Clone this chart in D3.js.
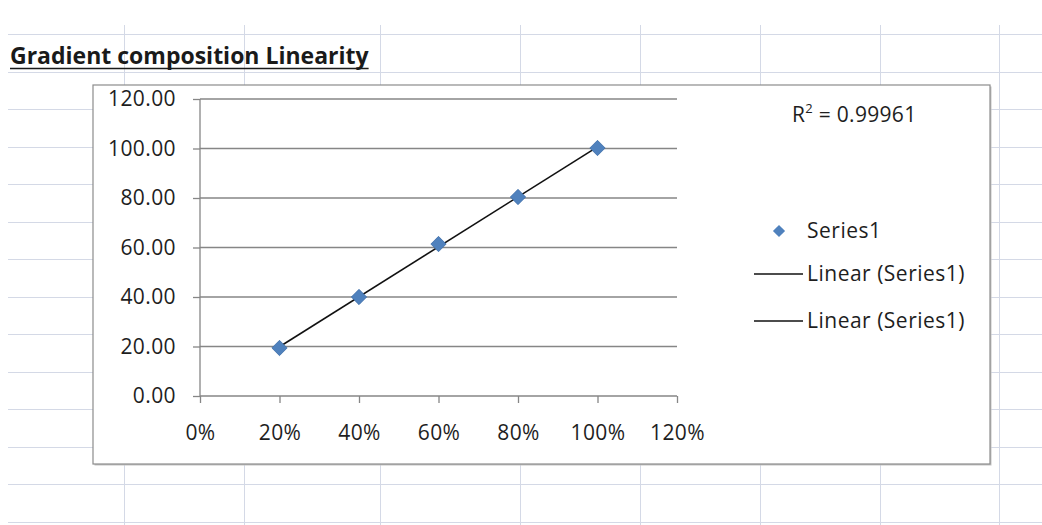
<!DOCTYPE html>
<html>
<head>
<meta charset="utf-8">
<script src="https://cdn.jsdelivr.net/npm/d3@7"></script>
<style>
  html, body { margin: 0; padding: 0; background: #fff; }
  svg { display: block; }
  text { font-family: "Open Sans", sans-serif; fill: #1e1e1e; }
</style>
</head>
<body>
<script>
// chart data
const xValues = [0.2, 0.4, 0.6, 0.8, 1.0];
const yValues = [19.4, 40.0, 61.4, 80.4, 100.2];
const xTicks = [0, 0.2, 0.4, 0.6, 0.8, 1.0, 1.2];
const yTicks = [0, 20, 40, 60, 80, 100, 120];
const seriesName = "Series1";
const trendLabels = ["Linear (Series1)", "Linear (Series1)"];
const rSquaredText = "0.99961";
const titleText = "Gradient composition Linearity";

// spreadsheet background grid
const sheetCols = [124, 244, 380, 520, 640, 760, 880, 999];
const sheetRowStart = 34, sheetRowStep = 37.5;

const W = 1042, H = 525;
const svg = d3.select("body").append("svg")
    .attr("width", W)
    .attr("height", H);

// ---- sheet grid
const gridColor = "#d4d9e6";
const rows = d3.range(sheetRowStart, H, sheetRowStep);
svg.append("g").selectAll("line")
    .data(rows)
    .join("line")
    .attr("x1", 8).attr("x2", W)
    .attr("y1", d => Math.round(d) + 0.5).attr("y2", d => Math.round(d) + 0.5)
    .attr("stroke", gridColor);
svg.append("g").selectAll("line")
    .data(sheetCols)
    .join("line")
    .attr("x1", d => d + 0.5).attr("x2", d => d + 0.5)
    .attr("y1", 25).attr("y2", H)
    .attr("stroke", gridColor);

// ---- title (cell text, bold underlined)
const title = svg.append("text")
    .attr("x", 10).attr("y", 64)
    .style("font-weight", "bold")
    .style("font-size", "23px")
    .style("fill", "#1a1a1a")
    .text(titleText);
const tLen = title.node().getComputedTextLength();
svg.append("line")
    .attr("x1", 10).attr("x2", 10 + tLen)
    .attr("y1", 68.5).attr("y2", 68.5)
    .attr("stroke", "#1a1a1a").attr("stroke-width", 1.6);

// ---- chart box
const box = { x: 93, y: 85, w: 897, h: 379 };
svg.append("rect")
    .attr("x", box.x + 1.5).attr("y", box.y + 1.5)
    .attr("width", box.w).attr("height", box.h)
    .attr("fill", "#c4c4c4");
svg.append("rect")
    .attr("x", box.x).attr("y", box.y)
    .attr("width", box.w).attr("height", box.h)
    .attr("fill", "#fff")
    .attr("stroke", "#8c8c8c").attr("stroke-width", 1.2);

// ---- scales
const x = d3.scaleLinear().domain([0, 1.2]).range([200, 677]);
const y = d3.scaleLinear().domain([0, 120]).range([396, 99]);

const axisColor = "#868686";

// horizontal gridlines
svg.append("g").selectAll("line")
    .data(yTicks.filter(d => d > 0))
    .join("line")
    .attr("x1", x(0)).attr("x2", x(1.2))
    .attr("y1", d => y(d)).attr("y2", d => y(d))
    .attr("stroke", axisColor).attr("stroke-width", 1.3);

// axes
const yAxis = d3.axisLeft(y)
    .tickValues(yTicks)
    .tickFormat(d3.format(".2f"))
    .tickSize(7).tickPadding(17);
const xAxis = d3.axisBottom(x)
    .tickValues(xTicks)
    .tickFormat(d3.format(".0%"))
    .tickSize(7).tickPadding(22);

const gy = svg.append("g").attr("transform", `translate(${x(0)},0)`).call(yAxis);
const gx = svg.append("g").attr("transform", `translate(0,${y(0)})`).call(xAxis);
[gx, gy].forEach(g => {
    g.select(".domain").attr("stroke", axisColor).attr("stroke-width", 1.3);
    g.selectAll(".tick line").attr("stroke", axisColor).attr("stroke-width", 1.3);
    g.selectAll(".tick text")
        .style("font-size", "21px")
        .style("letter-spacing", "0.4px")
        .attr("fill", "#1e1e1e");
});
// plain axis lines, no outer end caps
gy.select(".domain").attr("d", `M0,${y(120)}V${y(0)}`);
gx.select(".domain").attr("d", `M${x(0)},0H${x(1.2)}`);

// ---- linear trend line (least squares)
const mx = d3.mean(xValues), my = d3.mean(yValues);
const sxy = d3.sum(xValues, (v, i) => (v - mx) * (yValues[i] - my));
const sxx = d3.sum(xValues, v => (v - mx) * (v - mx));
const slope = sxy / sxx, intercept = my - slope * mx;
const xExt = d3.extent(xValues);
svg.append("path")
    .datum(xExt)
    .attr("d", d3.line().x(d => x(d)).y(d => y(intercept + slope * d)))
    .attr("fill", "none")
    .attr("stroke", "#111")
    .attr("stroke-width", 1.6);

// ---- markers
const diamond = d3.symbol().type(d3.symbolDiamond2).size(150);
svg.append("g").selectAll("path")
    .data(xValues)
    .join("path")
    .attr("transform", (d, i) => `translate(${x(d)},${y(yValues[i])})`)
    .attr("d", diamond)
    .attr("fill", "#4f81bd")
    .attr("stroke", "#3f6fa8").attr("stroke-width", 0.8);

// ---- R² label
const r2 = svg.append("text")
    .attr("x", 792).attr("y", 122)
    .style("font-size", "21px").style("letter-spacing", "0.3px");
r2.append("tspan").text("R");
r2.append("tspan").attr("dy", -9).style("font-size", "13px").text("2");
r2.append("tspan").attr("dy", 9).text(" = " + rSquaredText);

// ---- legend
const leg = svg.append("g");
leg.append("path")
    .attr("transform", "translate(779,231)")
    .attr("d", d3.symbol().type(d3.symbolDiamond2).size(95))
    .attr("fill", "#4f81bd");
leg.append("text")
    .attr("x", 807).attr("y", 231).attr("dy", "0.35em")
    .style("font-size", "21px").style("letter-spacing", "0.5px")
    .text(seriesName);
leg.selectAll("g.trend")
    .data(trendLabels)
    .join("g")
    .attr("class", "trend")
    .attr("transform", (d, i) => `translate(0,${274 + i * 47})`)
    .each(function (d) {
        const g = d3.select(this);
        g.append("line").attr("x1", 754).attr("x2", 803)
            .attr("stroke", "#111").attr("stroke-width", 1.6);
        g.append("text").attr("x", 807).attr("dy", "0.35em")
            .style("font-size", "21px").style("letter-spacing", "0.5px")
            .text(d);
    });
</script>
</body>
</html>
